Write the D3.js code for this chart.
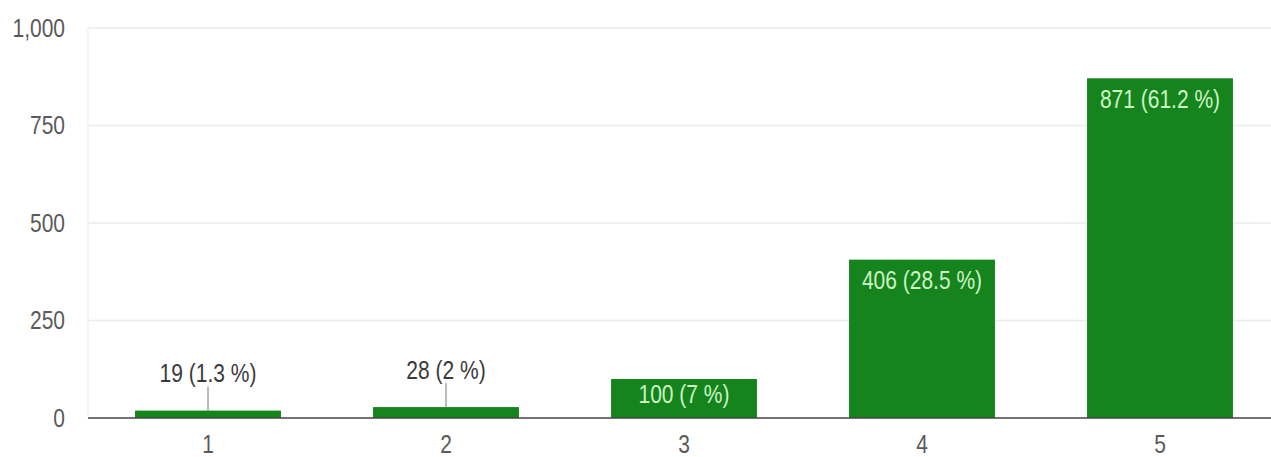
<!DOCTYPE html>
<html>
<head>
<meta charset="utf-8">
<script src="https://cdn.jsdelivr.net/npm/d3@7"></script>
<style>
  html, body { margin: 0; padding: 0; background: #fff; }
  svg { display: block; }
  text { font-family: Arial, "Liberation Sans", sans-serif; }
</style>
</head>
<body>
<svg id="chart" width="1271" height="457"></svg>
<script>
const categories = ["1", "2", "3", "4", "5"];
const values = [19, 28, 100, 406, 871];
const percents = ["1.3", "2", "7", "28.5", "61.2"];
const yTicks = [0, 250, 500, 750, 1000];

const svg = d3.select("#chart");
const W = 1271, H = 457;
const left = 88, baseY = 418, topY = 28;

const x = d3.scaleBand().domain(categories).range([89, 1279])
  .paddingInner(0.387).paddingOuter(0.1935);
const y = d3.scaleLinear().domain([0, 1000]).range([baseY, topY]);

const FS = 21, SY = 1.2;
function label(g, tx, ty, str, anchor, color) {
  // ty = vertical centre of text
  g.append("text")
    .attr("transform", `translate(${tx},${ty}) scale(1,${SY})`)
    .attr("text-anchor", anchor)
    .attr("dominant-baseline", "central")
    .attr("font-size", FS)
    .attr("fill", color)
    .text(str);
}

// gridlines
svg.append("g").selectAll("line").data(yTicks.filter(d => d > 0)).join("line")
  .attr("x1", left).attr("x2", W)
  .attr("y1", d => y(d)).attr("y2", d => y(d))
  .attr("stroke", "#ebebeb").attr("stroke-width", 1.5);
// faint vertical frame line
svg.append("line").attr("x1", left).attr("x2", left).attr("y1", topY).attr("y2", baseY)
  .attr("stroke", "#f2f2f2").attr("stroke-width", 1.5);

// y tick labels
const gy = svg.append("g");
yTicks.forEach(t => label(gy, 65, y(t), d3.format(",")(t), "end", "#5a5a5a"));

// bars
svg.append("g").selectAll("rect").data(values).join("rect")
  .attr("x", (d, i) => x(categories[i]))
  .attr("width", x.bandwidth())
  .attr("y", d => y(d))
  .attr("height", d => baseY - y(d))
  .attr("fill", "#15841c");

// axis baseline
svg.append("line").attr("x1", left).attr("x2", W).attr("y1", baseY).attr("y2", baseY)
  .attr("stroke", "#444").attr("stroke-width", 1.5);

// x tick labels
const gx = svg.append("g");
categories.forEach(c => label(gx, x(c) + x.bandwidth() / 2, 444, c, "middle", "#5a5a5a"));

// data labels
const gl = svg.append("g");
values.forEach((v, i) => {
  const cx = x(categories[i]) + x.bandwidth() / 2;
  const top = y(v);
  const str = `${v} (${percents[i]} %)`;
  const h = baseY - top;
  if (h < 30) {
    gl.append("line").attr("x1", cx).attr("x2", cx)
      .attr("y1", top - 24).attr("y2", top)
      .attr("stroke", "#777").attr("stroke-width", 1);
    label(gl, cx, top - 37, str, "middle", "#3a3a3a");
  } else {
    const cy = Math.min(top + 21, (top + baseY) / 2 - 4);
    label(gl, cx, cy, str, "middle", "#cdf3c4");
  }
});
</script>
</body>
</html>
